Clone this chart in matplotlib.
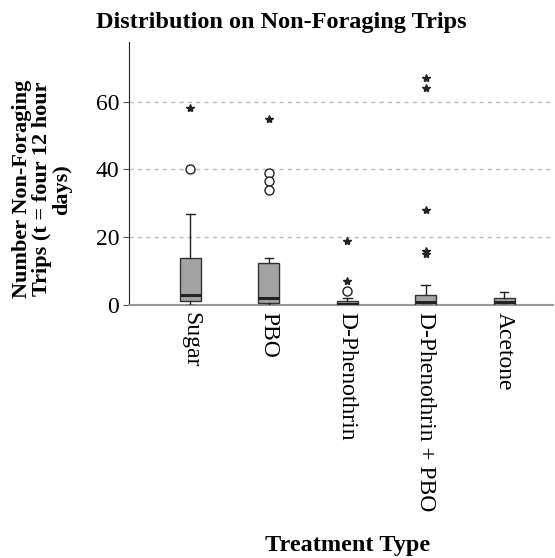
import matplotlib
matplotlib.use('Agg')
import matplotlib.pyplot as plt

plt.rcParams['font.family'] = ['Liberation Serif', 'DejaVu Serif']

# data
groups = ['Sugar', 'PBO', 'D-Phenothrin', 'D-Phenothrin + PBO', 'Acetone']
q1 = [1.3, 0.8, 0.0, 0.0, 0.0]
med = [3.0, 2.0, 0.5, 1.0, 1.0]
q3 = [14.0, 12.5, 1.2, 3.0, 2.0]
whis_lo = [0.0, 0.0, 0.0, 0.0, 0.0]
whis_hi = [27.0, 14.0, 2.0, 6.0, 4.0]
# circles = outliers, stars = extremes
outliers = [[40], [39, 36.5, 34], [4.2], [], []]
extremes = [[58], [55], [7, 19], [15, 16, 28, 64, 67], []]

fig = plt.figure(figsize=(5.55, 5.58), dpi=100)
ax = fig.add_axes([0.232, 0.453, 0.764, 0.472])

stats = []
for i, g in enumerate(groups):
    stats.append({'label': g, 'q1': q1[i], 'med': med[i], 'q3': q3[i],
                  'whislo': whis_lo[i], 'whishi': whis_hi[i], 'fliers': []})

pos = list(range(1, len(groups) + 1))
ax.bxp(stats, positions=pos, widths=0.27, patch_artist=True, showfliers=False,
       boxprops=dict(facecolor='#a3a3a3', edgecolor='#333333', linewidth=1.0),
       medianprops=dict(color='#222222', linewidth=2.2),
       whiskerprops=dict(color='#222222', linewidth=1.0),
       capprops=dict(color='#222222', linewidth=1.0),
       capwidths=0.11, zorder=3)

for i, p in enumerate(pos):
    if outliers[i]:
        ax.plot([p] * len(outliers[i]), outliers[i], 'o', ms=6.5, mfc='white',
                mec='#222222', mew=1.0, zorder=4)
    if extremes[i]:
        ax.plot([p] * len(extremes[i]), extremes[i], '*', ms=6, color='#222222',
                zorder=4)

ax.set_xlim(0.214, 5.62)
ax.set_ylim(0, 77.6)
ax.set_yticks([0, 20, 40, 60])
ax.tick_params(axis='y', labelsize=17, length=4, color='#555555', pad=3)
ax.set_xticks(pos)
ax.set_xticklabels(groups, rotation=-90, fontsize=17, va='top')
ax.tick_params(axis='x', length=0, pad=5)

ax.grid(axis='y', color='#bbbbbb', linestyle=(0, (3, 3)), linewidth=1.0)
ax.set_axisbelow(True)
for s in ['top', 'right']:
    ax.spines[s].set_visible(False)
ax.spines['bottom'].set_color('#999999')
ax.spines['bottom'].set_linewidth(1.5)
ax.spines['left'].set_color('#222222')

fig.text(0.507, 0.96, 'Distribution on Non-Foraging Trips', ha='center', va='center',
         fontsize=17.5, fontweight='bold')
fig.text(0.626, 0.023, 'Treatment Type', ha='center', va='center',
         fontsize=17.5, fontweight='bold')
fig.text(0.076, 0.661, 'Number Non-Foraging\nTrips (t = four 12 hour\ndays)',
         ha='center', va='center', rotation=90, fontsize=16, fontweight='bold',
         linespacing=1.0)

fig.savefig('out.png', dpi=100)
